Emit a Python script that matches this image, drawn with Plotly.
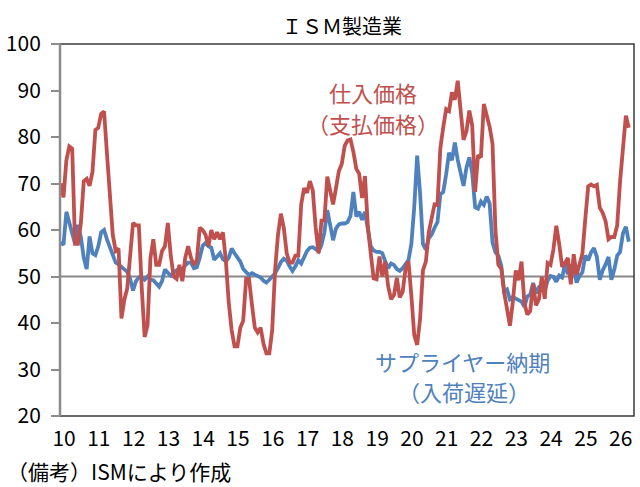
import plotly.graph_objects as go

# ISM manufacturing: prices paid (red) and supplier deliveries (blue), monthly from Jan 2010
prices = [
    70.0, 67.0, 75.0, 78.0, 77.5, 57.0, 57.0, 61.5, 70.5, 71.0, 69.5, 72.5,
    81.5, 82.0, 85.0, 85.5, 76.5, 68.0, 59.0, 55.5, 56.0, 41.0, 45.0, 47.5,
    54.5, 61.5, 61.0, 61.0, 47.5, 37.0, 39.5, 54.0, 58.0, 52.5, 52.5, 55.5,
    56.5, 61.5, 54.5, 50.0, 49.5, 52.5, 49.0, 54.0, 56.5, 54.0, 52.5, 53.5,
    60.5, 60.0, 59.0, 56.5, 60.0, 58.0, 59.5, 58.0, 59.5, 53.5, 44.5, 38.5,
    35.0, 35.0, 39.0, 40.5, 49.5, 49.5, 44.0, 39.0, 38.0, 39.0, 35.5, 33.5,
    33.5, 38.5, 51.5, 59.0, 63.5, 60.5, 55.0, 53.0, 53.0, 54.5, 54.5, 65.5,
    69.0, 68.0, 70.5, 68.5, 60.5, 55.0, 62.0, 62.0, 71.5, 68.5, 65.5, 69.0,
    72.7, 74.2, 78.1, 79.3, 79.5, 76.8, 73.2, 72.1, 66.9, 71.6, 60.7, 54.9,
    49.6, 49.4, 54.3, 50.0, 53.2, 47.9, 45.1, 46.0, 49.7, 45.5, 46.7, 51.7,
    53.3, 45.9, 37.4, 35.3, 40.8, 51.3, 53.2, 59.5, 62.8, 65.5, 65.4, 77.6,
    82.1, 86.0, 85.6, 89.6, 88.0, 92.1, 85.7, 79.4, 81.2, 85.7, 82.4, 68.2,
    76.1, 75.6, 87.1, 84.6, 82.2, 78.5, 60.0, 52.5, 51.7, 46.6, 43.0, 39.4,
    44.5, 51.3, 49.2, 53.2, 44.2, 41.8, 42.6, 48.4, 43.8, 45.1, 49.9, 45.2,
    52.9, 52.5, 55.8, 60.9, 57.0, 52.1, 52.9, 54.0, 48.3, 54.8, 50.3, 52.5,
    54.9, 62.4, 69.4, 69.8, 69.4, 69.7, 64.8, 63.7, 61.9, 58.0, 58.5, 58.5,
    61.0, 70.5, 78.5, 84.6, 82.0,
]

deliveries = [
    57.3, 56.8, 63.9, 61.5, 59.5, 57.0, 61.1, 58.5, 54.0, 51.6, 58.6, 55.0,
    54.6, 56.5, 59.5, 60.0, 58.0, 56.3, 55.0, 53.0, 52.6, 52.0, 51.4, 51.0,
    49.5, 47.0, 49.0, 49.8, 49.8, 49.3, 50.0, 49.3, 49.2, 48.5, 47.8, 49.0,
    51.5, 50.8, 50.2, 50.8, 51.4, 51.8, 51.4, 52.4, 53.0, 53.0, 51.8, 52.0,
    54.0, 56.6, 57.2, 56.5, 56.2, 53.6, 54.3, 55.0, 53.7, 53.3, 54.0, 56.0,
    55.0, 54.1, 53.2, 51.6, 51.0, 50.3, 50.7, 50.4, 50.1, 49.8, 49.1, 48.7,
    49.3, 50.0, 50.7, 51.8, 53.1, 53.8, 53.4, 52.2, 51.2, 52.2, 53.5, 52.8,
    54.2, 55.5, 56.2, 56.3, 55.9, 55.4, 56.8, 59.5, 64.3, 60.5, 57.8, 60.3,
    61.2, 61.4, 61.4, 61.7, 63.0, 68.2, 62.9, 63.9, 62.2, 63.9, 60.2, 56.5,
    55.6, 55.3, 55.3, 55.0, 53.2, 51.8, 52.8, 52.5, 51.6, 51.2, 51.8, 52.8,
    53.5, 57.0, 65.0, 76.0, 68.0, 57.0, 55.8, 58.2, 59.0, 60.5, 61.7, 67.7,
    68.2, 72.0, 76.6, 75.0, 78.8, 75.1, 72.5, 69.5, 73.4, 75.6, 72.2, 64.9,
    64.6, 66.1, 65.4, 67.2, 65.7, 57.3, 55.2, 54.5, 52.4, 46.8, 47.2, 45.1,
    45.6, 45.2, 44.8, 44.6, 43.5, 45.7, 46.1, 48.6, 46.4, 47.7, 47.7, 47.0,
    49.1, 50.1, 49.9, 48.9, 50.2, 49.8, 52.6, 50.5, 52.2, 52.0, 48.7, 50.1,
    50.9, 54.5, 53.5, 55.2, 56.1, 54.2, 49.3, 51.3, 52.6, 54.2, 49.3, 51.5,
    54.5, 55.3, 59.3, 60.7, 57.5,
]

start_year = 2010
years = list(range(2010, 2027))
year_labels = [str(y % 100) for y in years]
y_ticks = [20, 30, 40, 50, 60, 70, 80, 90, 100]

months = [start_year + i / 12 for i in range(len(prices))]

RED = "#C0504D"
BLUE = "#4F81BD"
CJK = "Noto Sans CJK JP"
NUM = "Liberation Sans Narrow, Noto Sans CJK JP"

fig = go.Figure()
fig.add_trace(go.Scatter(x=months, y=deliveries, mode="lines",
                         line=dict(color=BLUE, width=3.8), showlegend=False))
fig.add_trace(go.Scatter(x=months, y=prices, mode="lines",
                         line=dict(color=RED, width=3.8), showlegend=False))

# reference line at 50
fig.add_hline(y=50, line=dict(color="#888888", width=2), layer="below")

# frame (top, right, bottom dark; left grey axis)
fig.add_shape(type="rect", xref="paper", yref="paper", x0=0, x1=1, y0=0, y1=1,
              line=dict(color="#3a3a3a", width=1.5), layer="above")
fig.add_shape(type="line", xref="paper", yref="paper", x0=0, x1=0, y0=0, y1=1,
              line=dict(color="#8c8c8c", width=2.5), layer="above")

fig.update_xaxes(range=[start_year - 0.2 / 12, start_year + 197.8 / 12],
                 tickvals=[y + 0.1 for y in years], ticktext=year_labels,
                 ticks="", showgrid=False, zeroline=False, showline=False,
                 tickfont=dict(family=NUM, size=21, color="#000000"),
                 ticklabelstandoff=8)
fig.update_yaxes(range=[20, 100], tickvals=y_ticks,
                 ticks="outside", ticklen=8, tickwidth=2, tickcolor="#8c8c8c",
                 showgrid=False, zeroline=False, showline=False,
                 tickfont=dict(family=NUM, size=21, color="#000000"),
                 ticklabelstandoff=6)

ann = [
    dict(text="ＩＳＭ製造業", x=0.4905, y=1.051, font=dict(family=CJK, size=20, color="#000000")),
    dict(text="仕入価格", x=0.5458, y=0.871, font=dict(family=CJK, size=22, color=RED)),
    dict(text="（支払価格）", x=0.5458, y=0.7876, font=dict(family=CJK, size=22, color=RED)),
    dict(text="サプライヤー納期", x=0.702, y=0.1478, font=dict(family=CJK, size=22, color=BLUE)),
    dict(text="（入荷遅延）", x=0.703, y=0.0659, font=dict(family=CJK, size=22, color=BLUE)),
]
for a in ann:
    fig.add_annotation(xref="paper", yref="paper", showarrow=False,
                       xanchor="center", yanchor="middle", **a)

fig.add_annotation(text="（備考）ISMにより作成", xref="paper", yref="paper",
                   x=-55 / 579, y=-(471 - 416) / 372, xanchor="left", yanchor="middle",
                   showarrow=False, font=dict(family=CJK, size=21, color="#000000"))

fig.update_layout(width=640, height=487, margin=dict(l=55, r=6, t=44, b=71),
                  plot_bgcolor="white", paper_bgcolor="white")

fig.write_html("out.html")
